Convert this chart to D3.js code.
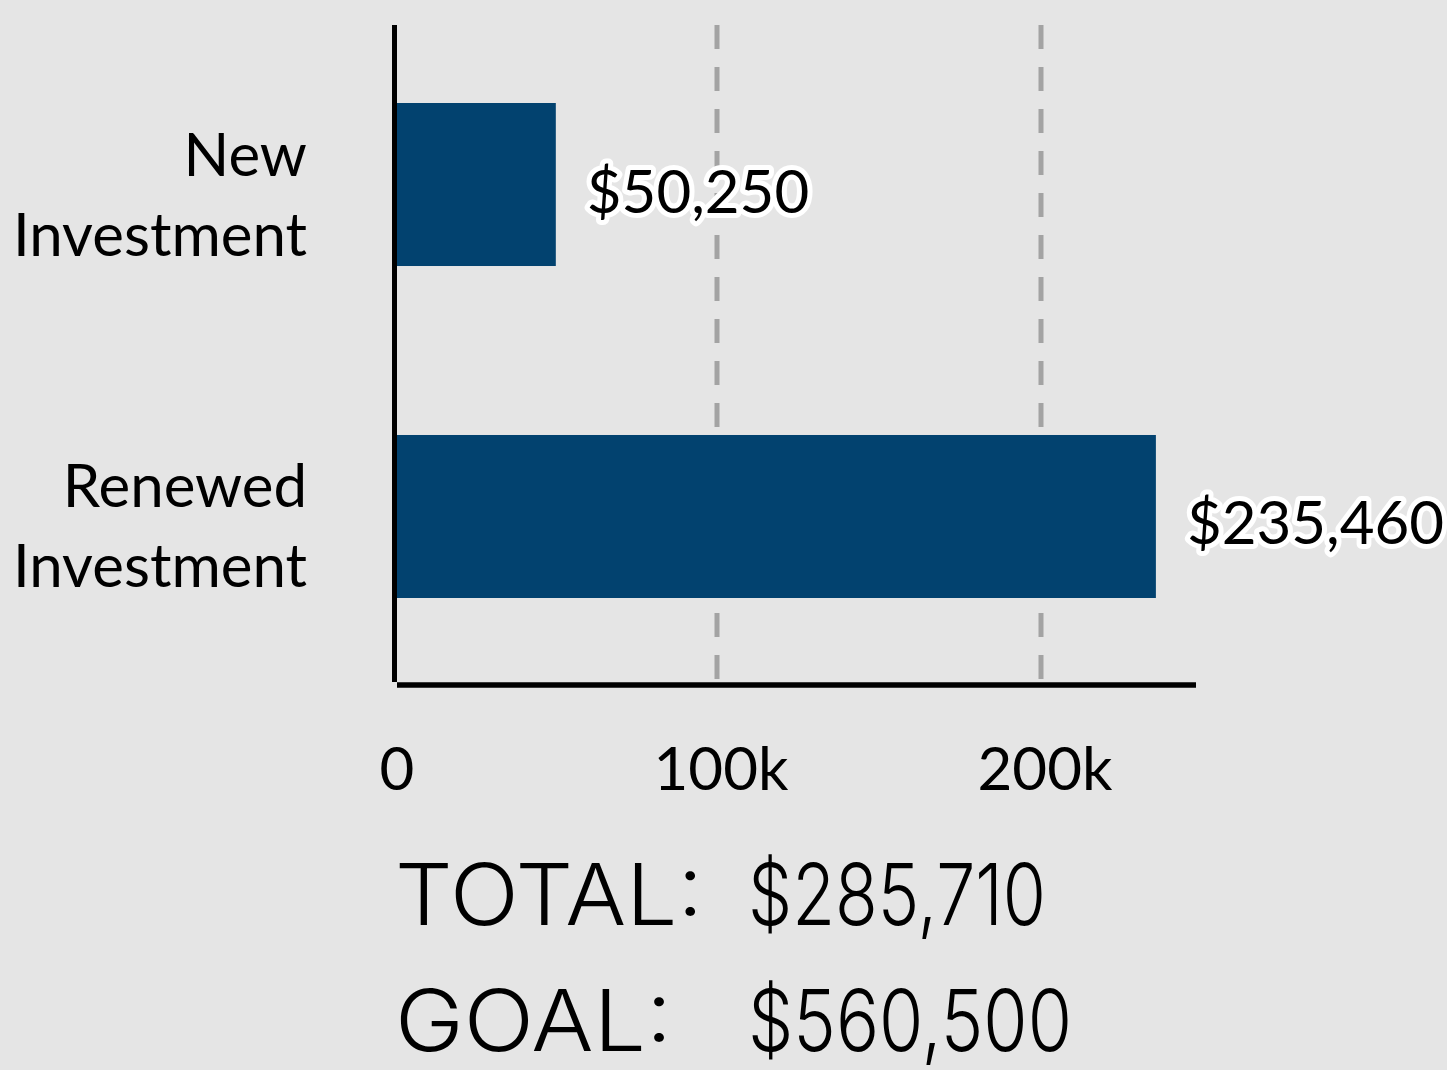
<!DOCTYPE html>
<html>
<head>
<meta charset="utf-8">
<script src="https://cdn.jsdelivr.net/npm/d3@7"></script>
<style>
  html, body { margin: 0; padding: 0; background: #e5e5e5; }
  svg { display: block; }
</style>
</head>
<body>
<svg id="chart" width="1447" height="1070"></svg>
<script>
// ---- data ----
const categories = ["New Investment", "Renewed Investment"];
const categoryLines = [["New", "Investment"], ["Renewed", "Investment"]];
const values = [50250, 235460];
const tickValues = [0, 100000, 200000];
const tickLabels = ["0", "100k", "200k"];
const summaryLabels = ["TOTAL:", "GOAL:"];
const summaryValues = ["$285,710", "$560,500"];

// ---- layout ----
const W = 1447, H = 1070;
const svg = d3.select("#chart");
svg.append("rect").attr("width", W).attr("height", H).attr("fill", "#e5e5e5");

const x = d3.scaleLinear().domain([0, 250000]).range([393, 1203]);
const y = d3.scaleBand().domain(categories).range([20, 681])
  .paddingInner(0.509).paddingOuter(0.25);

const axisTop = 25, axisBottom = 682;
const barColor = "#02426f";
const fmt = d3.format("$,");

// gridlines
svg.append("g").selectAll("line")
  .data(tickValues.filter(d => d > 0))
  .join("line")
  .attr("x1", d => x(d)).attr("x2", d => x(d))
  .attr("y1", axisTop).attr("y2", axisBottom)
  .attr("stroke", "#a3a3a3").attr("stroke-width", 5)
  .attr("stroke-dasharray", "24 18");

// bars
svg.append("g").selectAll("rect")
  .data(values)
  .join("rect")
  .attr("x", x(0))
  .attr("y", (d, i) => y(categories[i]))
  .attr("width", d => x(d) - x(0))
  .attr("height", y.bandwidth())
  .attr("fill", barColor);

// axis lines
svg.append("line")
  .attr("x1", 394.5).attr("x2", 394.5)
  .attr("y1", axisTop).attr("y2", axisBottom)
  .attr("stroke", "#000").attr("stroke-width", 5);
svg.append("line")
  .attr("x1", 397).attr("x2", 1196)
  .attr("y1", 685).attr("y2", 685)
  .attr("stroke", "#000").attr("stroke-width", 5.5);

// tick labels
svg.append("g").selectAll("text")
  .data(tickValues)
  .join("text")
  .attr("x", d => x(d) + 4)
  .attr("y", 790)
  .attr("text-anchor", "middle")
  .attr("font-family", "Lato, sans-serif")
  .attr("font-size", 60)
  .attr("fill", "#000")
  .text((d, i) => tickLabels[i]);

// category labels
const cat = svg.append("g").selectAll("text")
  .data(categories)
  .join("text")
  .attr("text-anchor", "end")
  .attr("font-family", "Lato, sans-serif")
  .attr("font-size", 60)
  .attr("fill", "#000");
cat.selectAll("tspan")
  .data((d, i) => categoryLines[i].map(t => ({t, c: d})))
  .join("tspan")
  .attr("x", 307)
  .attr("y", (d, j) => y(d.c) + y.bandwidth() / 2 - 9 + j * 80)
  .text(d => d.t);

// value labels with halo
svg.append("g").selectAll("text")
  .data(values)
  .join("text")
  .attr("x", d => x(d) + 31)
  .attr("y", (d, i) => y(categories[i]) + y.bandwidth() / 2 + 28)
  .attr("font-family", "Lato, sans-serif")
  .attr("font-size", 60)
  .attr("fill", "#000")
  .attr("stroke", "#fff")
  .attr("stroke-width", 10)
  .attr("stroke-linejoin", "round")
  .attr("paint-order", "stroke")
  .text(d => fmt(d));

// summary
const sumY = [925, 1051];
const labelLen = [308, 277];
const valueLen = [298, 324];
const sg = svg.append("g")
  .attr("font-family", "Inter, 'Noto Sans', sans-serif")
  .attr("font-weight", 300)
  .attr("font-size", 85)
  .attr("fill", "#000");
sg.selectAll("text.lab")
  .data(summaryLabels)
  .join("text")
  .attr("class", "lab")
  .attr("x", 395)
  .attr("y", (d, i) => sumY[i])
  .attr("textLength", (d, i) => labelLen[i])
  .attr("lengthAdjust", "spacingAndGlyphs")
  .text(d => d);
sg.selectAll("text.val")
  .data(summaryValues)
  .join("text")
  .attr("class", "val")
  .attr("x", 748)
  .attr("y", (d, i) => sumY[i])
  .attr("textLength", (d, i) => valueLen[i])
  .attr("lengthAdjust", "spacingAndGlyphs")
  .text(d => d);
</script>
</body>
</html>
